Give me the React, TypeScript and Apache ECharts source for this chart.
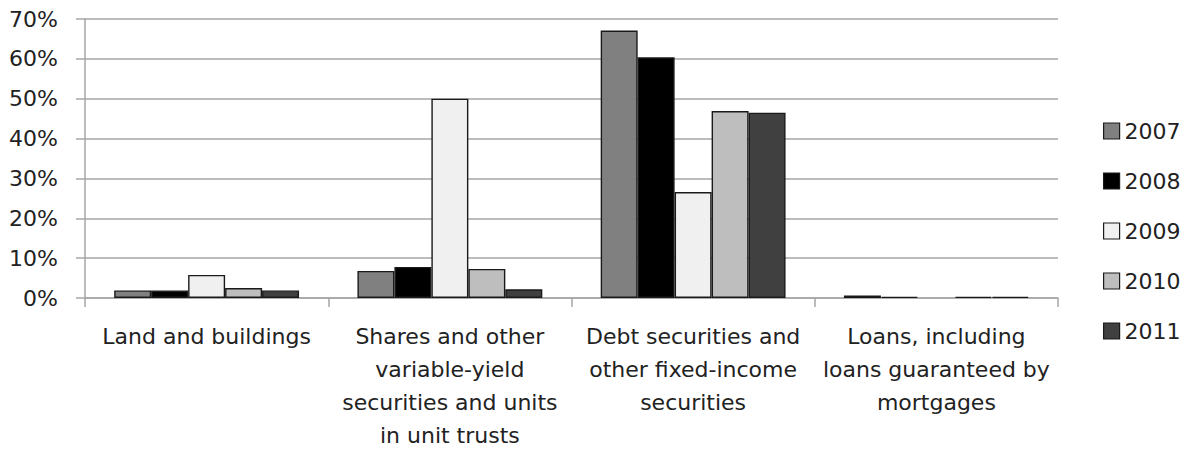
import React, { useEffect, useRef } from "react";
import * as echarts from "echarts";

const categories = [
  "Land and buildings",
  "Shares and other\nvariable-yield\nsecurities and units\nin unit trusts",
  "Debt securities and\nother fixed-income\nsecurities",
  "Loans, including\nloans guaranteed by\nmortgages",
];
const years = ["2007", "2008", "2009", "2010", "2011"];
const v2007 = [1.9, 6.8, 67.1, 0.6];
const v2008 = [1.9, 7.8, 60.4, 0.3];
const v2009 = [5.8, 50.0, 26.6, null];
const v2010 = [2.5, 7.3, 46.9, 0.3];
const v2011 = [1.9, 2.2, 46.5, 0.3];
const yTicks = [0, 10, 20, 30, 40, 50, 60, 70];
const colors = ["#808080", "#000000", "#f0f0f0", "#bebebe", "#404040"];

const FONT = "DejaVu Sans";
const FS = 22;

export default function App() {
  const ref = useRef<HTMLDivElement>(null);
  useEffect(() => {
    if (!ref.current) return;
    const chart = echarts.init(ref.current, undefined, { renderer: "svg" });
    const values = [v2007, v2008, v2009, v2010, v2011];
    chart.setOption({
      animation: false,
      textStyle: { fontFamily: FONT },
      grid: { left: 85, right: 131, top: 19, bottom: 156 },
      legend: {
        orient: "vertical",
        left: 1098,
        top: 115,
        itemWidth: 16,
        itemHeight: 16,
        itemGap: 28,
        itemStyle: { borderColor: "#1a1a1a", borderWidth: 1.2 },
        icon: "rect",
        data: years,
        textStyle: { fontSize: FS, color: "#222", fontFamily: FONT, lineHeight: 22 },
      },
      xAxis: {
        type: "category",
        data: categories,
        axisLine: { lineStyle: { color: "#a6a6a6", width: 1.5 } },
        axisTick: { show: true, length: 9, lineStyle: { color: "#a6a6a6", width: 1.5 } },
        axisLabel: {
          fontSize: FS,
          color: "#222",
          lineHeight: 33,
          margin: 22,
          interval: 0,
          align: "center",
          fontFamily: FONT,
        },
      },
      yAxis: {
        type: "value",
        min: yTicks[0],
        max: yTicks[yTicks.length - 1],
        interval: 10,
        axisLine: { show: true, lineStyle: { color: "#a6a6a6", width: 1.5 } },
        axisTick: { show: true, length: 9, lineStyle: { color: "#a6a6a6", width: 1.5 } },
        splitLine: { lineStyle: { color: "#a6a6a6", width: 1.5 } },
        axisLabel: {
          fontSize: FS,
          color: "#222",
          margin: 27,
          formatter: (v: number) => `${v}%`,
          fontFamily: FONT,
        },
      },
      series: years.map((y, i) => ({
        name: y,
        type: "bar",
        data: values[i],
        barGap: "0%",
        barCategoryGap: "24%",
        itemStyle: { color: colors[i], borderColor: "#1a1a1a", borderWidth: 1.4 },
      })),
    });
    return () => chart.dispose();
  }, []);
  return (
    <div
      ref={ref}
      style={{ position: "fixed", left: 0, top: 0, width: 1189, height: 454, background: "#fff" }}
    />
  );
}
